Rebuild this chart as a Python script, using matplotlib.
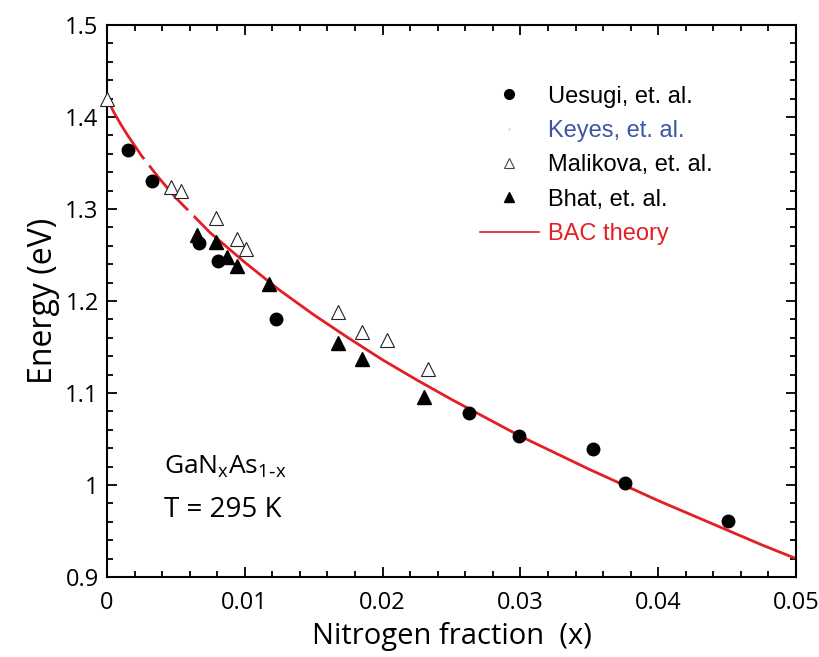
import numpy as np
import matplotlib
matplotlib.use('Agg')
import matplotlib.pyplot as plt
from matplotlib.ticker import MultipleLocator, FixedLocator, FixedFormatter
from matplotlib.lines import Line2D

# Uesugi et al. (filled circles)
x_ues = [0.00153, 0.00327, 0.00669, 0.00807, 0.01228, 0.02624, 0.02987, 0.03525, 0.03757, 0.04506]
E_ues = [1.364, 1.330, 1.263, 1.243, 1.180, 1.078, 1.053, 1.039, 1.002, 0.961]

# Keyes et al. (white markers, hidden on the line)
x_key = [0.00283, 0.00603]
E_key = [1.351, 1.296]

# Malikova et al. (open triangles)
x_mal = [0.0, 0.00465, 0.00538, 0.00792, 0.00945, 0.0101, 0.01679, 0.01853, 0.02035, 0.02326]
E_mal = [1.420, 1.324, 1.319, 1.290, 1.267, 1.256, 1.188, 1.166, 1.158, 1.126]

# Bhat et al. (filled triangles)
x_bha = [0.00654, 0.00792, 0.00872, 0.00945, 0.01177, 0.01679, 0.01853, 0.02304]
E_bha = [1.272, 1.264, 1.248, 1.238, 1.218, 1.154, 1.137, 1.096]

# BAC theory curve
x_bac = [0.0, 0.0005, 0.001, 0.0015, 0.0025, 0.00375, 0.005, 0.0075, 0.01, 0.0125, 0.015,
         0.0175, 0.02, 0.0225, 0.025, 0.0275, 0.03, 0.0325, 0.035, 0.0375, 0.04,
         0.0425, 0.045, 0.0475, 0.05]
E_bac = [1.420, 1.405, 1.392, 1.380, 1.358, 1.334, 1.312, 1.274, 1.242, 1.212, 1.185,
         1.160, 1.136, 1.114, 1.093, 1.073, 1.053, 1.035, 1.017, 1.000, 0.983,
         0.967, 0.951, 0.935, 0.920]

xticks = [0, 0.01, 0.02, 0.03, 0.04, 0.05]
xticklabels = ['0', '0.01', '0.02', '0.03', '0.04', '0.05']
yticks = [0.9, 1.0, 1.1, 1.2, 1.3, 1.4, 1.5]
yticklabels = ['0.9', '1', '1.1', '1.2', '1.3', '1.4', '1.5']

red = '#e31e24'
blue = '#3d55a5'

plt.rcParams['font.family'] = ['Open Sans', 'DejaVu Sans']

fig = plt.figure(figsize=(8.2, 6.57), dpi=100)
ax = fig.add_axes([0.1305, 0.1218, 0.8402, 0.8402])

ax.plot(x_bac, E_bac, color=red, lw=2.0, zorder=2)
ax.plot(x_key, E_key, 'o', color='white', ms=6, mec='none', zorder=3)
ax.plot(x_ues, E_ues, 'o', color='black', ms=9, mec='black', zorder=4)
ax.plot(x_mal, E_mal, '^', mfc='white', mec='#222222', mew=0.8, ms=9.5, zorder=4, clip_on=False)
ax.plot(x_bha, E_bha, '^', color='black', ms=9.5, zorder=5)

ax.set_xlim(0, 0.05)
ax.set_ylim(0.9, 1.5)
ax.xaxis.set_major_locator(FixedLocator(xticks))
ax.xaxis.set_major_formatter(FixedFormatter(xticklabels))
ax.yaxis.set_major_locator(FixedLocator(yticks))
ax.yaxis.set_major_formatter(FixedFormatter(yticklabels))
ax.xaxis.set_minor_locator(MultipleLocator(0.002))
ax.yaxis.set_minor_locator(MultipleLocator(0.02))
ax.tick_params(which='both', direction='in', top=True, right=True, width=1.3, labelsize=17)
ax.tick_params(which='major', length=7)
ax.tick_params(axis='x', which='major', pad=10)
ax.tick_params(axis='y', which='major', pad=6)
ax.tick_params(which='minor', length=4)
for s in ax.spines.values():
    s.set_linewidth(1.5)

ax.set_xlabel('Nitrogen fraction  (x)', fontsize=21, labelpad=5)
ax.set_ylabel('Energy (eV)', fontsize=23, labelpad=4)

ax.text(0.0041, 1.020, r'$\mathregular{GaN_xAs_{1\text{-}x}}$', fontsize=19, va='center')
ax.text(0.0041, 0.973, 'T = 295 K', fontsize=20, va='center')

handles = [
    Line2D([], [], ls='none', marker='o', color='black', ms=7),
    Line2D([], [], ls='none', marker='.', color='#dddddd', ms=2),
    Line2D([], [], ls='none', marker='^', mfc='white', mec='#444444', mew=0.8, ms=7),
    Line2D([], [], ls='none', marker='^', color='black', ms=7),
    Line2D([], [], color=red, lw=1.2),
]
labels = ['Uesugi, et. al.', 'Keyes, et. al.', 'Malikova, et. al.', 'Bhat, et. al.', 'BAC theory']
leg = ax.legend(handles, labels, loc='upper left', bbox_to_anchor=(0.541, 0.890),
                frameon=False, borderpad=0, borderaxespad=0, handlelength=2.5,
                handletextpad=0.4, labelspacing=0.52,
                prop={'family': 'Liberation Sans', 'size': 17})
for t, c in zip(leg.get_texts(), ['black', blue, 'black', 'black', red]):
    t.set_color(c)

fig.savefig('out.png', dpi=100)
